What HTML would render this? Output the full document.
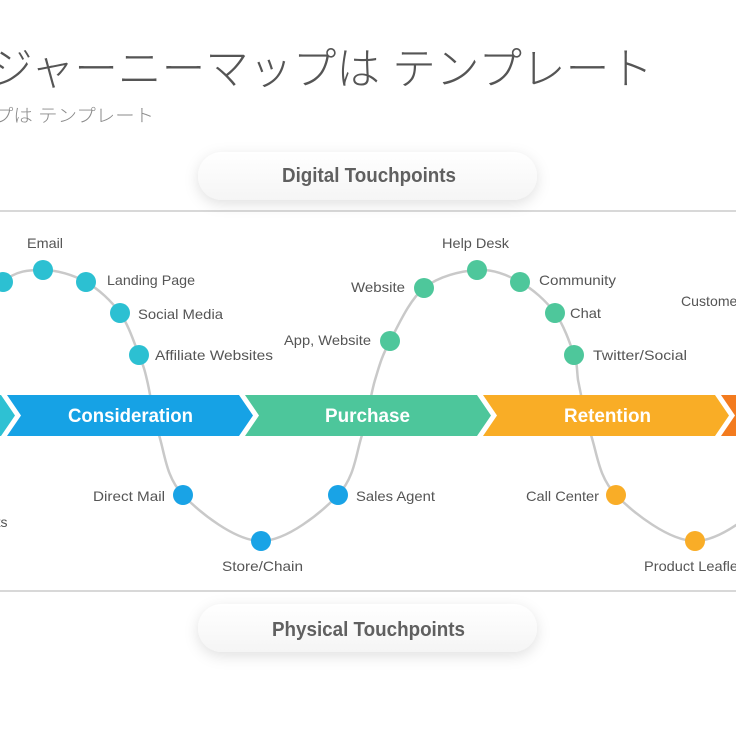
<!DOCTYPE html>
<html>
<head>
<meta charset="utf-8">
<style>
  html, body { margin: 0; padding: 0; background: #ffffff; }
  body { width: 736px; height: 736px; overflow: hidden; position: relative; }
  svg { position: absolute; left: 0; top: 0; }
</style>
</head>
<body>
<svg width="736" height="736" viewBox="0 0 736 736" xmlns="http://www.w3.org/2000/svg">
  <defs>
    <filter id="sh" x="-20%" y="-60%" width="140%" height="220%">
      <feDropShadow dx="0" dy="4" stdDeviation="7" flood-color="#000" flood-opacity="0.12"/>
    </filter>
    <linearGradient id="pg" x1="0" y1="0" x2="0" y2="1">
      <stop offset="0" stop-color="#ffffff"/>
      <stop offset="1" stop-color="#f5f5f5"/>
    </linearGradient>
  </defs>

  <rect x="0" y="0" width="736" height="736" fill="#ffffff"/>

  <!-- Title -->
  <text x="-11" y="84" font-family="Liberation Sans, Noto Sans CJK JP, sans-serif" font-size="44" font-weight="300" fill="#555555" textLength="664" lengthAdjust="spacingAndGlyphs">ジャーニーマップは テンプレート</text>
  <text x="-6" y="122" font-family="Liberation Sans, Noto Sans CJK JP, sans-serif" font-size="18" font-weight="300" fill="#8a8a8a" textLength="160" lengthAdjust="spacingAndGlyphs">プは テンプレート</text>

  <!-- Frame lines -->
  <line x1="0" y1="211" x2="736" y2="211" stroke="#d8d8d8" stroke-width="2"/>
  <line x1="0" y1="591" x2="736" y2="591" stroke="#d8d8d8" stroke-width="2"/>

  <!-- Pills -->
  <rect x="198" y="152" width="339" height="48" rx="24" ry="24" fill="url(#pg)" filter="url(#sh)"/>
  <text x="282" y="182" font-family="Liberation Sans, sans-serif" font-size="20" font-weight="bold" fill="#606060" textLength="174" lengthAdjust="spacingAndGlyphs">Digital Touchpoints</text>

  <rect x="198" y="604" width="339" height="48" rx="24" ry="24" fill="url(#pg)" filter="url(#sh)"/>
  <text x="272" y="636" font-family="Liberation Sans, sans-serif" font-size="20" font-weight="bold" fill="#606060" textLength="193" lengthAdjust="spacingAndGlyphs">Physical Touchpoints</text>

  <!-- Curve -->
  <path d="M -38 341
           C -28.8 324.7, -10.5 293.8, 3 282
           C 16.5 270.2, 29.2 270, 43 270
           C 56.8 270, 73.2 274.8, 86 282
           C 98.8 289.2, 111.2 300.8, 120 313
           C 128.8 325.2, 134.5 343.8, 139 355
           C 143.5 366.2, 144.5 369, 147 380
           C 150.3 393.3, 153 415.8, 159 435
           C 165 454.2, 166 477.3, 183 495
           C 200 512.7, 235.2 541, 261 541
           C 286.8 541, 321.2 512.7, 338 495
           C 354.8 477.3, 355.8 454.2, 362 435
           C 368.2 415.8, 370.3 395.7, 375 380
           C 379.7 364.3, 381.8 356.3, 390 341
           C 398.2 325.7, 409.5 299.8, 424 288
           C 438.5 276.2, 461 271, 477 270
           C 493 269, 507 274.8, 520 282
           C 533 289.2, 546 300.8, 555 313
           C 564 325.2, 570.2 343.8, 574 355
           C 577.8 366.2, 576.5 368, 578 380
           C 580.8 393.3, 584.7 415.8, 591 435
           C 597.3 454.2, 598.7 477.3, 616 495
           C 633.3 512.7, 669 541, 695 541
           C 721 541, 754.5 512.7, 772 495"
        fill="none" stroke="#c9c9c9" stroke-width="2.5"/>

  <!-- Chevron band -->
  <polygon points="-231,395 1,395 15,415.5 1,436 -231,436 -217,415.5" fill="#2ec1d3"/>
  <polygon points="7,395 239,395 253,415.5 239,436 7,436 21,415.5" fill="#16a2e5"/>
  <polygon points="245,395 477,395 491,415.5 477,436 245,436 259,415.5" fill="#4dc69b"/>
  <polygon points="483,395 715,395 729,415.5 715,436 483,436 497,415.5" fill="#f9ad26"/>
  <polygon points="721,395 953,395 967,415.5 953,436 721,436 735,415.5" fill="#f37b1f"/>

  <g font-family="Liberation Sans, sans-serif" font-size="19" font-weight="bold" fill="#ffffff">
    <text x="68" y="422" textLength="125" lengthAdjust="spacingAndGlyphs">Consideration</text>
    <text x="325" y="422" textLength="85" lengthAdjust="spacingAndGlyphs">Purchase</text>
    <text x="564" y="422" textLength="87" lengthAdjust="spacingAndGlyphs">Retention</text>
  </g>

  <!-- Dots -->
  <g fill="#2cc0d2">
    <circle cx="3" cy="282" r="10"/>
    <circle cx="43" cy="270" r="10"/>
    <circle cx="86" cy="282" r="10"/>
    <circle cx="120" cy="313" r="10"/>
    <circle cx="139" cy="355" r="10"/>
  </g>
  <g fill="#19a3e6">
    <circle cx="183" cy="495" r="10"/>
    <circle cx="261" cy="541" r="10"/>
    <circle cx="338" cy="495" r="10"/>
  </g>
  <g fill="#4ec79b">
    <circle cx="390" cy="341" r="10"/>
    <circle cx="424" cy="288" r="10"/>
    <circle cx="477" cy="270" r="10"/>
    <circle cx="520" cy="282" r="10"/>
    <circle cx="555" cy="313" r="10"/>
    <circle cx="574" cy="355" r="10"/>
  </g>
  <g fill="#f9ad27">
    <circle cx="616" cy="495" r="10"/>
    <circle cx="695" cy="541" r="10"/>
  </g>

  <!-- Labels -->
  <g font-family="Liberation Sans, sans-serif" font-size="14" fill="#555555">
    <text x="27" y="248" textLength="36" lengthAdjust="spacingAndGlyphs">Email</text>
    <text x="107" y="285" textLength="88" lengthAdjust="spacingAndGlyphs">Landing Page</text>
    <text x="138" y="319" textLength="85" lengthAdjust="spacingAndGlyphs">Social Media</text>
    <text x="155" y="360" textLength="118" lengthAdjust="spacingAndGlyphs">Affiliate Websites</text>

    <text x="442" y="248" textLength="67" lengthAdjust="spacingAndGlyphs">Help Desk</text>
    <text x="351" y="292" textLength="54" lengthAdjust="spacingAndGlyphs">Website</text>
    <text x="539" y="285" textLength="77" lengthAdjust="spacingAndGlyphs">Community</text>
    <text x="570" y="318" textLength="31" lengthAdjust="spacingAndGlyphs">Chat</text>
    <text x="284" y="345" textLength="87" lengthAdjust="spacingAndGlyphs">App, Website</text>
    <text x="593" y="360" textLength="94" lengthAdjust="spacingAndGlyphs">Twitter/Social</text>
    <text x="681" y="306" font-size="14" textLength="112" lengthAdjust="spacingAndGlyphs">Customer Service</text>

    <text x="93" y="501" textLength="72" lengthAdjust="spacingAndGlyphs">Direct Mail</text>
    <text x="222" y="571" textLength="81" lengthAdjust="spacingAndGlyphs">Store/Chain</text>
    <text x="356" y="501" textLength="79" lengthAdjust="spacingAndGlyphs">Sales Agent</text>
    <text x="526" y="501" textLength="73" lengthAdjust="spacingAndGlyphs">Call Center</text>
    <text x="644" y="571" textLength="98" lengthAdjust="spacingAndGlyphs">Product Leaflet</text>
    <text x="7.5" y="527" text-anchor="end">Events</text>
  </g>
</svg>
</body>
</html>
